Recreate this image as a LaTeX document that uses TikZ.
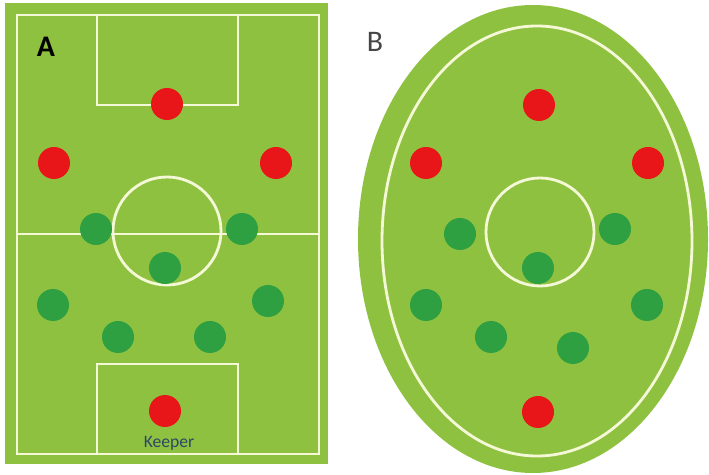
\documentclass[tikz,border=0pt]{standalone}
\usepackage{fontspec}
\setsansfont{Carlito}
\usepackage{tikz}
\usetikzlibrary{positioning,calc}
\definecolor{grassgreen}{RGB}{143, 193, 64}
\definecolor{chalkwhite}{RGB}{244, 248, 214}
\definecolor{shirtred}{RGB}{232, 22, 24}
\definecolor{shirtgreen}{RGB}{46, 160, 66}
\definecolor{keeperblue}{RGB}{44, 72, 104}
\definecolor{labelgray}{RGB}{70, 70, 70}

\begin{document}
\begin{tikzpicture}[x=0.02cm, y=-0.02cm,
    chalk/.style={line width=1.6pt, color=chalkwhite},
    redplayer/.style={circle, fill=shirtred, minimum size=32*0.02cm, inner sep=0pt},
    greenplayer/.style={circle, fill=shirtgreen, minimum size=32*0.02cm, inner sep=0pt}]
    \useasboundingbox (0,0) rectangle (709,475);

    % pitch A
    \fill[grassgreen] (5,3) rectangle (328,464);
    \draw[chalk] (17,15) rectangle (319,454);
    \draw[chalk] (97,15) rectangle (238,105);
    \draw[chalk] (97,364) rectangle (238,454);
    \draw[chalk] (17,234) -- (319,234);
    \draw[chalk] (167,231) circle (54);
    \node[font=\sffamily\bfseries\fontsize{17}{17}\selectfont] (labelA) at (46,47) {A};

    \node[redplayer] (a-top) at (167,104) {};
    \node[redplayer] (a-left) at (54,163) {};
    \node[redplayer] (a-right) at (276,163) {};
    \node[redplayer] (a-keeper) at (165,411) {};
    \node[greenplayer] (a-g1) at (96,229) {};
    \node[greenplayer] (a-g2) at (242,229) {};
    \node[greenplayer] (a-g3) at (165,268) {};
    \node[greenplayer] (a-g4) at (53,305) {};
    \node[greenplayer] (a-g5) at (268,301) {};
    \node[greenplayer] (a-g6) at (118,337) {};
    \node[greenplayer] (a-g7) at (210,337) {};
    \node[font=\sffamily\fontsize{10}{10}\selectfont, color=keeperblue] (keeper) at (169,443) {Keeper};

    % pitch B
    \fill[grassgreen] (533,239) ellipse (175 and 234);
    \draw[chalk] (537,241) ellipse (155 and 215);
    \draw[chalk] (540,232) circle (54);
    \node[font=\sffamily\fontsize{17}{17}\selectfont, color=labelgray] (labelB) at (375,42) {B};

    \node[redplayer] (b-top) at (539,105) {};
    \node[redplayer] (b-left) at (426,163) {};
    \node[redplayer] (b-right) at (648,163) {};
    \node[redplayer] (b-keeper) at (538,412) {};
    \node[greenplayer] (b-g1) at (460,234) {};
    \node[greenplayer] (b-g2) at (615,229) {};
    \node[greenplayer] (b-g3) at (538,268) {};
    \node[greenplayer] (b-g4) at (426,305) {};
    \node[greenplayer] (b-g5) at (647,305) {};
    \node[greenplayer] (b-g6) at (491,337) {};
    \node[greenplayer] (b-g7) at (573,348) {};
\end{tikzpicture}
\end{document}
